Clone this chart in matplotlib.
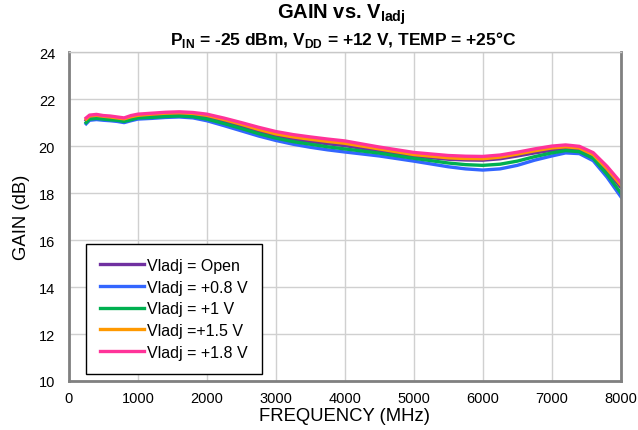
import matplotlib
matplotlib.use("Agg")
from matplotlib import pyplot as plt

plt.rcParams['font.family'] = ['Liberation Sans', 'DejaVu Sans']
plt.rcParams['mathtext.fontset'] = 'custom'
plt.rcParams['mathtext.rm'] = 'Liberation Sans'
plt.rcParams['mathtext.bf'] = 'Liberation Sans:bold'

# frequency points (MHz)
freq = [250, 300, 400, 500, 600, 700, 800, 900, 1000, 1200, 1400, 1600, 1800, 2000,
        2250, 2500, 2750, 3000, 3250, 3500, 3750, 4000, 4500, 5000, 5500, 5750,
        6000, 6250, 6500, 6750, 7000, 7200, 7400, 7600, 7800, 8000]

gain_open = [21.10, 21.25, 21.28, 21.23, 21.20, 21.17, 21.12, 21.20, 21.27, 21.31, 21.35,
             21.37, 21.34, 21.25, 21.06, 20.85, 20.63, 20.44, 20.30, 20.19, 20.10, 20.02,
             19.79, 19.57, 19.44, 19.41, 19.40, 19.46, 19.58, 19.71, 19.82, 19.89, 19.84,
             19.57, 18.95, 18.25]
gain_08 = [20.95, 21.10, 21.13, 21.10, 21.08, 21.05, 21.00, 21.08, 21.15, 21.18, 21.22,
           21.24, 21.20, 21.08, 20.87, 20.65, 20.43, 20.24, 20.08, 19.95, 19.84, 19.75,
           19.58, 19.36, 19.12, 19.03, 18.98, 19.03, 19.18, 19.40, 19.58, 19.71, 19.68,
           19.38, 18.68, 17.85]
gain_1 = [21.00, 21.15, 21.18, 21.15, 21.12, 21.10, 21.05, 21.12, 21.20, 21.22, 21.26,
          21.28, 21.25, 21.15, 20.96, 20.75, 20.53, 20.34, 20.19, 20.08, 19.97, 19.88,
          19.70, 19.48, 19.28, 19.21, 19.18, 19.23, 19.36, 19.55, 19.71, 19.81, 19.76,
          19.48, 18.80, 18.00]
gain_15 = [21.15, 21.28, 21.31, 21.27, 21.24, 21.20, 21.16, 21.25, 21.31, 21.36, 21.40,
           21.42, 21.39, 21.31, 21.13, 20.93, 20.71, 20.52, 20.39, 20.29, 20.20, 20.12,
           19.88, 19.64, 19.50, 19.47, 19.46, 19.53, 19.66, 19.80, 19.92, 19.97, 19.92,
           19.64, 19.04, 18.35]
gain_18 = [21.20, 21.32, 21.35, 21.30, 21.28, 21.24, 21.20, 21.30, 21.36, 21.40, 21.44,
           21.46, 21.43, 21.36, 21.19, 21.00, 20.80, 20.62, 20.49, 20.39, 20.30, 20.22,
           19.96, 19.73, 19.60, 19.57, 19.56, 19.62, 19.74, 19.88, 20.00, 20.05, 19.99,
           19.72, 19.14, 18.45]

labels = ['Vladj = Open', 'Vladj = +0.8 V', 'Vladj = +1 V', 'Vladj =+1.5 V', 'Vladj = +1.8 V']
colors = ['#7030A0', '#3366FF', '#00B050', '#FF9900', '#FF3399']
series = [gain_open, gain_08, gain_1, gain_15, gain_18]

fig = plt.figure(figsize=(6.38, 4.31), dpi=100)
ax = fig.add_axes([0.108, 0.1137, 0.865, 0.763])

for g, c, lab in zip(series, colors, labels):
    ax.plot(freq, g, color=c, lw=2.4, label=lab, solid_joinstyle='round')

ax.set_xlim(0, 8000)
ax.set_ylim(10, 24)
ax.set_xticks(range(0, 8001, 1000))
ax.set_yticks(range(10, 25, 2))
ax.grid(True, color='#D0D0D0', lw=1)
ax.set_axisbelow(True)
ax.tick_params(length=0, labelsize=10.5)
ax.tick_params(axis='y', pad=10)
ax.tick_params(axis='x', pad=7)

for side in ['left', 'bottom', 'right']:
    ax.spines[side].set_color('#808080')
    ax.spines[side].set_linewidth(2)
ax.spines['top'].set_color('#C8C8C8')
ax.spines['top'].set_linewidth(1)

ax.set_xlabel('FREQUENCY (MHz)', fontsize=13.3, labelpad=2)
ax.set_ylabel('GAIN (dB)', fontsize=13.3, labelpad=6)

fig.text(0.535, 0.965, r'GAIN vs. V$_{\mathbf{Iadj}}$', ha='center', va='center',
         fontsize=14.5, fontweight='bold')
fig.text(0.537, 0.908,
         r'P$_{\mathbf{IN}}$ = -25 dBm, V$_{\mathbf{DD}}$ = +12 V, TEMP = +25°C',
         ha='center', va='center', fontsize=12.5, fontweight='bold')

leg = ax.legend(loc='lower left', bbox_to_anchor=(0.031, 0.021), fontsize=11.5,
                frameon=True, fancybox=False, edgecolor='black', framealpha=1,
                handlelength=2.75, handletextpad=0.15, labelspacing=0.42,
                borderpad=0.9, borderaxespad=0)
leg.get_frame().set_linewidth(1)

fig.savefig('out.png', dpi=100)
